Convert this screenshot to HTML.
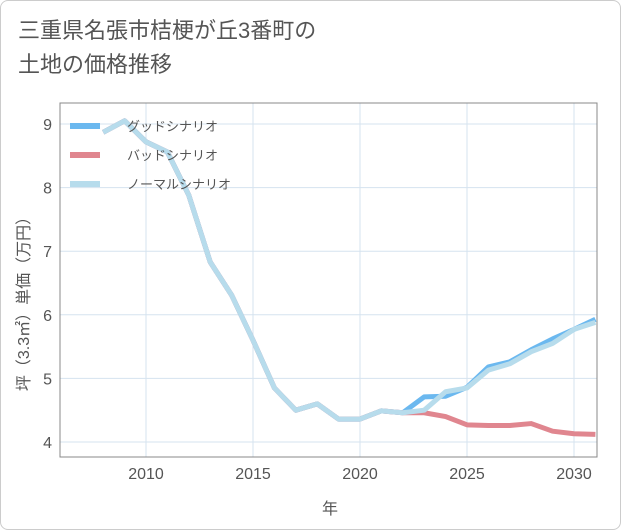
<!DOCTYPE html>
<html><head><meta charset="utf-8"><style>
body{margin:0;background:#fff;}
#wrap{position:relative;width:621px;height:530px;font-family:"Liberation Sans","Noto Sans CJK JP",sans-serif;}
#frame{position:absolute;left:0;top:0;width:619px;height:528px;border:1px solid #ccc;border-radius:8px;}
#title{position:absolute;left:18px;top:14px;font-size:22px;line-height:34px;color:#555;}
</style></head><body>
<div id="wrap">
<div id="frame"></div>
<div id="title">三重県名張市桔梗が丘3番町の<br>土地の価格推移</div>
<svg id="chart" width="621" height="530" style="position:absolute;left:0;top:0"></svg>
</div>
<script>
const years=[2008,2009,2010,2011,2012,2013,2014,2015,2016,2017,2018,2019,2020,2021,2022,2023,2024,2025,2026,2027,2028,2029,2030,2031];
const goodValues=[8.87,9.05,8.72,8.56,7.88,6.83,6.31,5.6,4.85,4.5,4.6,4.36,4.36,4.49,4.46,4.71,4.72,4.86,5.18,5.26,5.45,5.62,5.77,5.93];
const badValues=[8.87,9.05,8.72,8.56,7.88,6.83,6.31,5.6,4.85,4.5,4.6,4.36,4.36,4.49,4.46,4.46,4.4,4.27,4.26,4.26,4.29,4.17,4.13,4.12];
const normalValues=[8.87,9.05,8.72,8.56,7.88,6.83,6.31,5.6,4.85,4.5,4.6,4.36,4.36,4.49,4.46,4.5,4.79,4.85,5.13,5.23,5.42,5.55,5.77,5.88];
const xTicks=[2010,2015,2020,2025,2030];
const yTicks=[4,5,6,7,8,9];
const seriesNames=["グッドシナリオ","バッドシナリオ","ノーマルシナリオ"];
const NS="http://www.w3.org/2000/svg";
const svg=document.getElementById('chart');
const L=60,R=597,T=103,B=457;
function xs(y){return 146+(y-2010)*21.4;}
function ys(v){return 442-(v-4)*63.6;}
function mk(tag,a){const e=document.createElementNS(NS,tag);for(const k in a)e.setAttribute(k,a[k]);svg.appendChild(e);return e;}
const clip=mk('clipPath',{id:'pc'});
const cr=document.createElementNS(NS,'rect');cr.setAttribute('x',L);cr.setAttribute('y',T);cr.setAttribute('width',R-L);cr.setAttribute('height',B-T);clip.appendChild(cr);
for(const t of xTicks){
 const g=mk('line',{x1:xs(t),x2:xs(t),y1:T,y2:B,stroke:'#d5e3ef','stroke-width':1});
 
 
 const tx=mk('text',{x:xs(t),y:B+22,'text-anchor':'middle','font-size':16,fill:'#555'});
 tx.textContent=t;
 
 
}
for(const t of yTicks){
 const g=mk('line',{x1:L,x2:R,y1:ys(t),y2:ys(t),stroke:'#d5e3ef','stroke-width':1});
 
 
 const tx=mk('text',{x:L-8,y:ys(t)+6,'text-anchor':'end','font-size':16,fill:'#555'});
 tx.textContent=t;
 
 
}
const ax=mk('rect',{x:L,y:T,width:R-L,height:B-T,fill:'none',stroke:'#888','stroke-width':1});


function line(vals,color,name){
 const d=vals.map((v,i)=>(i?'L':'M')+xs(years[i])+','+ys(v)).join(' ');
 const p=mk('path',{d:d,fill:'none',stroke:color,'stroke-width':5,'stroke-linejoin':'round','clip-path':'url(#pc)'});
 
 
}
line(goodValues,'#6bb8ef','good-scenario-line');
line(badValues,'#e0868f','bad-scenario-line');
line(normalValues,'#b7dcec','normal-scenario-line');
const colors=['#6bb8ef','#e0868f','#b7dcec'];
seriesNames.forEach((n,i)=>{
 const y=126+i*29;
 const r=mk('rect',{x:70,y:y-3,width:30,height:6,fill:colors[i]});
 
 
 const t=mk('text',{x:127,y:y+5,'font-size':13,fill:'#555'});
 t.textContent=n;
 
 
});
const xt=mk('text',{x:330,y:514,'text-anchor':'middle','font-size':16,fill:'#555'});
xt.textContent='年';


const yt=mk('text',{x:0,y:0,'text-anchor':'middle','font-size':16,fill:'#555',transform:'translate(29,300) rotate(-90)'});
yt.textContent='坪（3.3㎡）単価（万円）';


</script>
</body></html>
